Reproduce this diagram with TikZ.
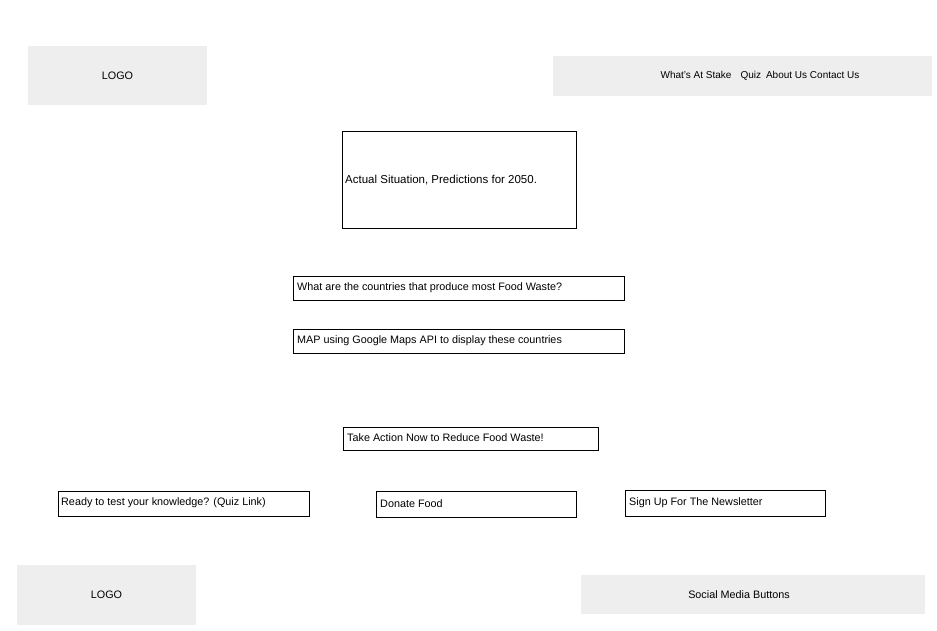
\documentclass[tikz,border=0pt]{standalone}
\usepackage{fontspec}
\setmainfont{Liberation Sans}
\definecolor{boxgray}{HTML}{EEEEEE}
\begin{document}
\begin{tikzpicture}[x=1pt,y=-1pt,
  graybox/.style={fill=boxgray,draw=none,inner sep=0pt},
  wirebox/.style={draw=black,line width=0.9pt,inner sep=0pt},
  lbl/.style={font=\fontsize{10.8}{13}\selectfont,inner sep=0pt}]
\useasboundingbox (0,0) rectangle (937,631);
% top bar
\path[graybox] (28,46) rectangle (207,105);
\node[lbl] (logotop) at (117.5,76) {LOGO};
\path[graybox] (553,56) rectangle (932,96);
\node[lbl,font=\fontsize{10}{12}\selectfont] (nav) at (760,76) {What's At Stake\hspace{0.9em}Quiz\hspace{0.5em}About Us Contact Us};
% main content
\draw[wirebox] (342,131) rectangle (576,228);
\node[lbl,anchor=west,font=\fontsize{11.5}{13}\selectfont] (situation) at (345,180) {Actual Situation, Predictions for 2050.};
\draw[wirebox] (293,276) rectangle (624,300);
\node[lbl,anchor=west] (countries) at (297,288) {What are the countries that produce most Food Waste?};
\draw[wirebox] (293,329) rectangle (624,353);
\node[lbl,anchor=west] (map) at (297,341) {MAP using Google Maps API to display these countries};
\draw[wirebox] (343,427) rectangle (598,450);
\node[lbl,anchor=west] (action) at (347,438) {Take Action Now to Reduce Food Waste!};
\draw[wirebox] (58,491) rectangle (309,516);
\node[lbl,anchor=west] (quiz) at (61,503) {Ready to test your knowledge? (Quiz Link)};
\draw[wirebox] (376,491) rectangle (576,517);
\node[lbl,anchor=west] (donate) at (380,504) {Donate Food};
\draw[wirebox] (625,490) rectangle (825,516);
\node[lbl,anchor=west] (news) at (629,503) {Sign Up For The Newsletter};
% footer
\path[graybox] (17,565) rectangle (196,625);
\node[lbl] (logobot) at (106.5,595) {LOGO};
\path[graybox] (581,575) rectangle (925,614);
\node[lbl] (social) at (739,595) {Social Media Buttons};
\end{tikzpicture}
\end{document}
